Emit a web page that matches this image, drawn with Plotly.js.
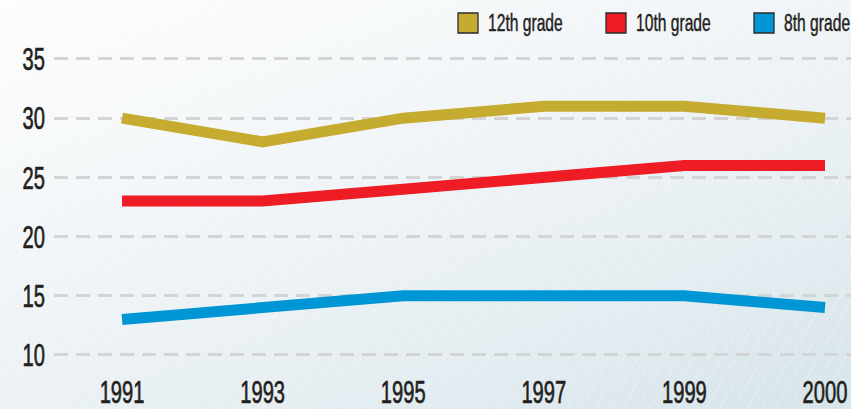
<!DOCTYPE html>
<html>
<head>
<meta charset="utf-8">
<script src="https://cdn.plot.ly/plotly-3.0.1.min.js"></script>
<style>
  html, body { margin: 0; padding: 0; }
  body {
    width: 851px; height: 409px; overflow: hidden;
    background:
      repeating-linear-gradient(120deg, rgba(255,255,255,0) 0px, rgba(255,255,255,0) 11px, rgba(255,255,255,0.28) 11px, rgba(255,255,255,0.28) 12px),
      linear-gradient(160deg, #fcfdfd 0%, #f3f6f8 35%, #e6eef2 70%, #d6e4ea 100%);
  }
  #chart { width: 851px; height: 409px; }
  /* condense labels horizontally (reference uses a condensed face) */
  #chart g.xtick { transform-box: fill-box; transform-origin: 50% 50%; transform: scaleX(0.63); }
  #chart g.ytick { transform-box: fill-box; transform-origin: 100% 50%; transform: scaleX(0.63); }
  #chart g.xtick text, #chart g.ytick text { stroke: #231f20; stroke-width: 0.7px; }
  #chart text.annotation-text { transform-box: fill-box; transform-origin: 0% 50%; transform: scaleX(0.68); stroke: #231f20; stroke-width: 0.45px; }
</style>
</head>
<body>
<div id="chart"></div>
<script>
// ---- data ----
const years = ["1991", "1993", "1995", "1997", "1999", "2000"];
const seriesNames = ["12th grade", "10th grade", "8th grade"];
const grade12 = [30, 28, 30, 31, 31, 30];
const grade10 = [23, 23, 24, 25, 26, 26];
const grade8  = [13, 14, 15, 15, 15, 14];
const yTicks = [10, 15, 20, 25, 30, 35];

// ---- styling ----
const colors = ["#c5ab2f", "#ee1c25", "#0096d6"];
const FONT = "'Liberation Sans', Arial, sans-serif";
const W = 851, H = 409;
const M = { l: 54, r: 0, t: 40, b: 39 };
const pw = W - M.l - M.r, ph = H - M.t - M.b;
const px2x = p => (p - M.l) / pw;
const py2y = p => (H - M.b - p) / ph;

const values = [grade12, grade10, grade8];
const traces = values.map((v, i) => ({
  x: years, y: v, type: "scatter", mode: "lines",
  name: seriesNames[i],
  line: { color: colors[i], width: 11 },
  showlegend: false, hoverinfo: "skip"
}));

// manual legend (square swatches + labels)
const legendX = [458, 606, 754];
const shapes = [], annotations = [];
seriesNames.forEach((n, i) => {
  shapes.push({
    type: "rect", xref: "paper", yref: "paper",
    x0: px2x(legendX[i]), x1: px2x(legendX[i] + 20),
    y0: py2y(33), y1: py2y(13),
    fillcolor: colors[i], line: { color: "#2a2a2a", width: 1.3 }
  });
  annotations.push({
    xref: "paper", yref: "paper",
    x: px2x(legendX[i] + 28), y: py2y(23),
    xanchor: "left", yanchor: "middle",
    text: n, showarrow: false,
    font: { family: FONT, size: 23, color: "#231f20" }
  });
});

const layout = {
  width: W, height: H,
  margin: M,
  paper_bgcolor: "rgba(0,0,0,0)",
  plot_bgcolor: "rgba(0,0,0,0)",
  showlegend: false,
  xaxis: {
    type: "category",
    range: [-0.484, 5.185],
    showgrid: false, zeroline: false, showline: false,
    ticks: "", ticklen: 0,
    tickfont: { family: FONT, size: 32, color: "#231f20" },
    fixedrange: true
  },
  yaxis: {
    range: [8.73, 36.6],
    tickvals: yTicks,
    ticktext: yTicks.map(String),
    showgrid: true, gridcolor: "#d3d4d6", gridwidth: 3,
    griddash: "14px,8px",
    zeroline: false, showline: false,
    ticks: "", ticklabelstandoff: 8,
    tickfont: { family: FONT, size: 32, color: "#231f20" },
    fixedrange: true
  },
  shapes: shapes,
  annotations: annotations
};

Plotly.newPlot("chart", traces, layout, { displayModeBar: false, staticPlot: true });
</script>
</body>
</html>
